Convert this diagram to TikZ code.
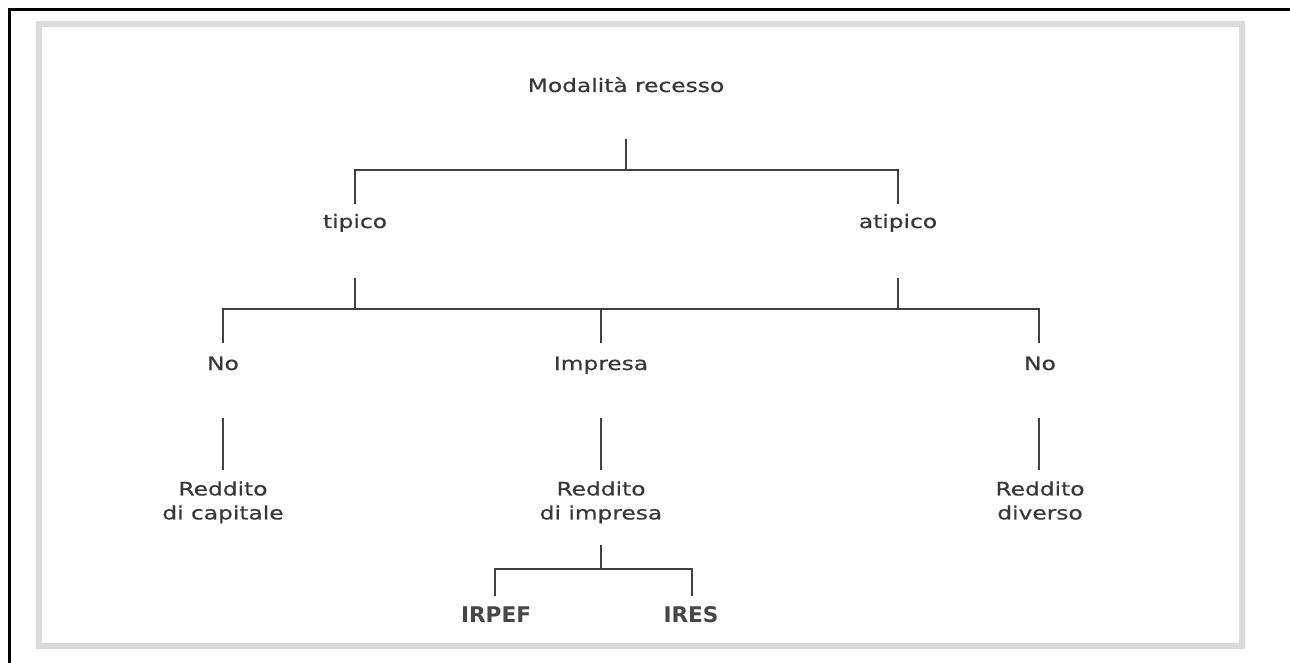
\documentclass[tikz,border=0pt]{standalone}
\usepackage{fontspec}
\setmainfont[FakeStretch=1.26,FakeBold=0.6]{DejaVu Sans}
\newfontfamily\taxfont{DejaVu Sans}

\begin{document}
\begin{tikzpicture}[x=0.5pt,y=-0.5pt,
  lbl/.style={inner sep=0pt,text=black!78,font=\fontsize{9.25}{12}\selectfont,align=center},
  taxlbl/.style={inner sep=0pt,text=black!72,font=\taxfont\bfseries\fontsize{10.8}{12}\selectfont},
  conn/.style={draw=black!75,line width=1.3pt}]
\useasboundingbox (0,0) rectangle (1290,663);
% frames
\draw[black,line width=1.5pt] (1290,9.5) -- (9.5,9.5) -- (9.5,663);
\draw[black!14,line width=2.6pt] (39,24) rectangle (1242,646);
% labels
\node[lbl,anchor=base] (mod) at (626,92) {Modalità recesso};
\node[lbl,anchor=base] (tip) at (355,228) {tipico};
\node[lbl,anchor=base] (atip) at (898,228) {atipico};
\node[lbl,anchor=base] (no1) at (223,370) {No};
\node[lbl,anchor=base] (imp) at (601,370) {Impresa};
\node[lbl,anchor=base] (no2) at (1040,370) {No};
\node[lbl,anchor=north] (rcap) at (223,481) {Reddito\\di capitale};
\node[lbl,anchor=north] (rimp) at (601,481) {Reddito\\di impresa};
\node[lbl,anchor=north] (rdiv) at (1040,481) {Reddito\\diverso};
\node[taxlbl,anchor=base] (irpef) at (496,622) {IRPEF};
\node[taxlbl,anchor=base] (ires) at (691,622) {IRES};
% stub ends and junctions
\coordinate (mod-s) at (626,139); \coordinate (j1) at (626,170);
\coordinate (tip-n) at (355,204); \coordinate (atip-n) at (898,204);
\coordinate (tip-s) at (355,278); \coordinate (atip-s) at (898,278);
\coordinate (j2) at (601,309);
\coordinate (no1-n) at (223,343); \coordinate (imp-n) at (601,343); \coordinate (no2-n) at (1039,343);
\coordinate (no1-s) at (223,418); \coordinate (imp-s) at (601,418); \coordinate (no2-s) at (1039,418);
\coordinate (rcap-n) at (223,470); \coordinate (rimp-n) at (601,470); \coordinate (rdiv-n) at (1039,470);
\coordinate (rimp-s) at (601,545); \coordinate (j4) at (601,569);
\coordinate (irpef-n) at (495,596); \coordinate (ires-n) at (692,596);
% connectors
\draw[conn] (mod-s) -- (j1);
\draw[conn] (tip-n) |- (j1) -| (atip-n);
\draw[conn] (tip-s) -- (tip-s |- j2); \draw[conn] (atip-s) -- (atip-s |- j2);
\draw[conn] (no1-n) |- (j2) -| (no2-n); \draw[conn] (j2) -- (imp-n);
\draw[conn] (no1-s) -- (rcap-n); \draw[conn] (imp-s) -- (rimp-n); \draw[conn] (no2-s) -- (rdiv-n);
\draw[conn] (rimp-s) -- (j4);
\draw[conn] (irpef-n) |- (j4) -| (ires-n);
\end{tikzpicture}
\end{document}
